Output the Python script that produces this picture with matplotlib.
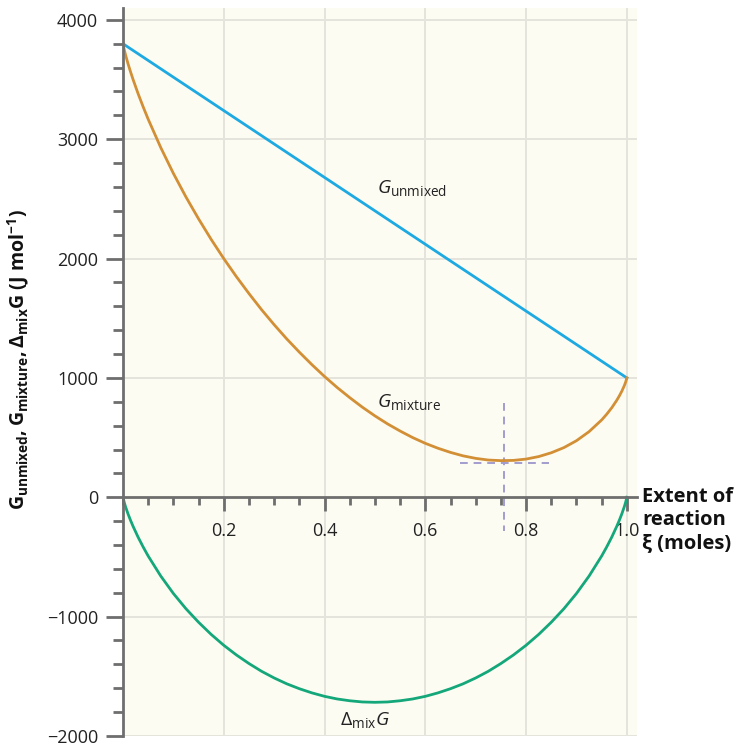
import matplotlib
matplotlib.use("Agg")
import matplotlib.pyplot as plt
from matplotlib.ticker import MultipleLocator

# values (extent of reaction in moles, G in J/mol)
xi = [0, 0.0025, 0.005, 0.01, 0.015, 0.02, 0.03, 0.04,
      0.05, 0.075, 0.1, 0.125, 0.15, 0.175, 0.2, 0.225, 0.25, 0.275,
      0.3, 0.325, 0.35, 0.375, 0.4, 0.425, 0.45, 0.475, 0.5, 0.525,
      0.55, 0.575, 0.6, 0.625, 0.65, 0.675, 0.7, 0.725, 0.75, 0.775,
      0.8, 0.825, 0.85, 0.875, 0.9, 0.925, 0.95,
      0.96, 0.97, 0.98, 0.985, 0.99, 0.995, 0.9975, 1.0]
g_mixture = [3800, 3750, 3708, 3633, 3565, 3501, 3382, 3272,
             3168, 2930, 2714, 2516, 2333, 2161, 2000, 1849, 1707, 1572,
             1446, 1327, 1216, 1111, 1012, 920, 835, 755, 682, 615,
             555, 500, 452, 411, 376, 347, 326, 312, 307, 309,
             320, 341, 373, 416, 474, 550, 648,
             696, 750, 813, 849, 889, 936, 964, 1000]
delta_mix = [0, -43, -78, -139, -193, -243, -334, -416,
             -492, -660, -806, -934, -1047, -1149, -1240, -1321, -1393, -1458,
             -1514, -1563, -1604, -1639, -1668, -1690, -1705, -1715, -1718, -1715,
             -1705, -1690, -1668, -1639, -1604, -1563, -1514, -1458, -1393, -1321,
             -1240, -1149, -1047, -934, -806, -660, -492,
             -416, -334, -243, -193, -139, -78, -43, 0]
xi_unmixed = [0, 1.0]
g_unmixed = [3800, 1000]

# equilibrium point marked by the dashed cross
xi_eq = 0.757
g_eq = 290

x_ticks = [0.2, 0.4, 0.6, 0.8, 1.0]
y_ticks = [-2000, -1000, 0, 1000, 2000, 3000, 4000]

plt.rcParams['font.family'] = ['Open Sans', 'DejaVu Sans']
plt.rcParams['mathtext.fontset'] = 'custom'
plt.rcParams['mathtext.rm'] = 'Open Sans'
plt.rcParams['mathtext.it'] = 'Open Sans:italic'
plt.rcParams['mathtext.bf'] = 'Open Sans:bold'

fig = plt.figure(figsize=(7.39, 7.49), dpi=100)
ax = fig.add_axes([0.1664, 0.0174, 0.6955, 0.972])
ax.set_facecolor('#fdfcf3')

ax.plot(xi_unmixed, g_unmixed, color='#1da9e1', lw=2.0, zorder=4)
ax.plot(xi, g_mixture, color='#d28f35', lw=2.0, zorder=4)
ax.plot(xi, delta_mix, color='#14a77a', lw=2.0, zorder=4)

# dashed cross at the minimum of G_mixture
ax.plot([xi_eq, xi_eq], [790, -280], color='#a39dcf', lw=1.4, ls=(0, (4, 3)), zorder=3)
ax.plot([0.668, 0.845], [g_eq, g_eq], color='#a39dcf', lw=1.4, ls=(0, (4, 3)), zorder=3)

ax.set_xlim(0, 1.02)
ax.set_ylim(-2000, 4100)

# grid
for x in x_ticks:
    ax.axvline(x, color='#e4e3dc', lw=1.4, zorder=1)
for y in y_ticks:
    if y != 0:
        ax.axhline(y, color='#e4e3dc', lw=1.4, zorder=1)

ax.spines['top'].set_visible(False)
ax.spines['right'].set_visible(False)
ax.spines['left'].set_position(('data', 0))
ax.spines['bottom'].set_position(('data', 0))
for s in ['left', 'bottom']:
    ax.spines[s].set_color('#6e6e6e')
    ax.spines[s].set_linewidth(2)
    ax.spines[s].set_zorder(5)

ax.set_xticks(x_ticks)
ax.set_xticklabels(['0.2', '0.4', '0.6', '0.8', '1.0'])
ax.xaxis.set_minor_locator(MultipleLocator(0.05))
ax.set_yticks(y_ticks)
ax.yaxis.set_minor_locator(MultipleLocator(200))

ax.tick_params(axis='both', which='both', direction='out', color='#6e6e6e',
               labelsize=13, labelcolor='#222222')
ax.tick_params(axis='y', which='major', length=12, width=2, pad=6)
ax.tick_params(axis='y', which='minor', length=7, width=2)
ax.tick_params(axis='x', which='major', length=10, width=2, pad=8)
ax.tick_params(axis='x', which='minor', length=6, width=2)

# curve labels
ax.text(0.505, 2590, r'$G_{\mathrm{unmixed}}$', fontsize=14, color='#222222',
        ha='left', va='center')
ax.text(0.505, 800, r'$G_{\mathrm{mixture}}$', fontsize=14, color='#222222',
        ha='left', va='center')
ax.text(0.43, -1870, r'$\Delta_{\mathrm{mix}}G$', fontsize=14, color='#222222',
        ha='left', va='center')

# axis titles
ax.text(1.03, -190, 'Extent of\nreaction\nξ (moles)', fontsize=14.5, fontweight='bold',
        color='#111111', ha='left', va='center', linespacing=1.2)
fig.text(18 / 739, 1 - 360 / 749,
         r'$\mathbf{G_{unmixed}, G_{mixture}, \Delta_{mix}G}$ $\mathbf{(J\ mol^{-1})}$',
         rotation=90, ha='center', va='center', fontsize=14, color='#111111')

fig.savefig('out.png', dpi=100)
